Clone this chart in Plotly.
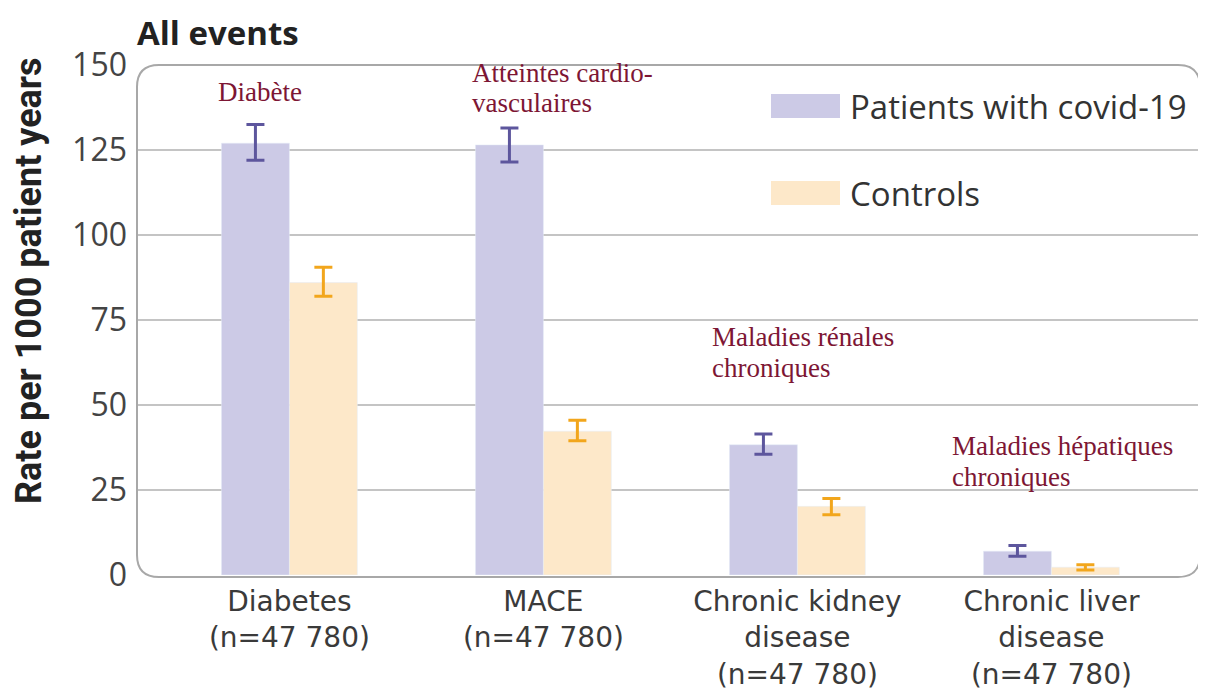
import plotly.graph_objects as go

category_lines = [["Diabetes", "(n=47 780)"], ["MACE", "(n=47 780)"],
                  ["Chronic kidney", "disease", "(n=47 780)"], ["Chronic liver", "disease", "(n=47 780)"]]
categories = ["<br>".join(c) for c in category_lines]
covid_rate = [127, 126.5, 38.3, 7.0]
covid_lo = [122, 121.5, 35.5, 5.5]
covid_hi = [132.5, 131.5, 41.5, 8.7]
ctrl_rate = [86, 42.3, 20.2, 2.3]
ctrl_lo = [82, 39.5, 17.7, 1.5]
ctrl_hi = [90.5, 45.5, 22.5, 3.0]
yticks = [0, 25, 50, 75, 100, 125, 150]
series_names = ["Patients with covid-19", "Controls"]
notes = [["Diabète"], ["Atteintes cardio-", "vasculaires"], ["Maladies rénales", "chroniques"],
         ["Maladies hépatiques", "chroniques"]]

COV_BAR = "#cccae6"
COV_ERR = "#5d569d"
CTL_BAR = "#fde8c9"
CTL_ERR = "#f2a61c"
NOTE = "#7d1634"

# page body has an 8px margin; figure sized to fit the window
OX, OY = 8, 8
W, H = 1198, 685
L, R, T, B = 129, 6, 57, 118
pw, ph = W - L - R, H - T - B

fig = go.Figure()
fig.add_trace(go.Bar(
    x=categories, y=covid_rate, name=series_names[0], marker_color=COV_BAR,
    error_y=dict(type="data", symmetric=False,
                 array=[h - v for h, v in zip(covid_hi, covid_rate)],
                 arrayminus=[v - l for l, v in zip(covid_lo, covid_rate)],
                 color=COV_ERR, thickness=3, width=9),
))
fig.add_trace(go.Bar(
    x=categories, y=ctrl_rate, name=series_names[1], marker_color=CTL_BAR,
    error_y=dict(type="data", symmetric=False,
                 array=[h - v for h, v in zip(ctrl_hi, ctrl_rate)],
                 arrayminus=[v - l for l, v in zip(ctrl_lo, ctrl_rate)],
                 color=CTL_ERR, thickness=3, width=9),
))

def px(x):
    return (x - OX - L) / pw

def py(y):
    return (H - B - (y - OY)) / ph

# rounded plot border (page pixel coordinates)
r = 22
x0, x1, y0, y1 = 137, 1200, 65, 577
path = (f"M {px(x0+r)},{py(y0)} L {px(x1-r)},{py(y0)} Q {px(x1)},{py(y0)} {px(x1)},{py(y0+r)} "
        f"L {px(x1)},{py(y1-r)} Q {px(x1)},{py(y1)} {px(x1-r)},{py(y1)} "
        f"L {px(x0+r)},{py(y1)} Q {px(x0)},{py(y1)} {px(x0)},{py(y1-r)} "
        f"L {px(x0)},{py(y0+r)} Q {px(x0)},{py(y0)} {px(x0+r)},{py(y0)} Z")
shapes = [dict(type="path", xref="paper", yref="paper", path=path,
               line=dict(color="#a8a8a8", width=2), layer="above")]

annotations = []
# manual legend
for i, (nm, col) in enumerate(zip(series_names, [COV_BAR, CTL_BAR])):
    yc = 106 + i * 87
    shapes.append(dict(type="rect", xref="paper", yref="paper",
                       x0=px(771), x1=px(840), y0=py(yc - 12), y1=py(yc + 12),
                       fillcolor=col, line=dict(width=0)))
    annotations.append(dict(text=nm, xref="paper", yref="paper", x=px(848), y=py(yc),
                            xanchor="left", yanchor="middle", showarrow=False,
                            font=dict(family="Open Sans", size=33, color="#333333")))

# French notes
note_pos = [(216, 92), (470, 73), (710, 337), (950, 446)]
for lines, (nx, ny) in zip(notes, note_pos):
    for j, t in enumerate(lines):
        annotations.append(dict(text=t, xref="paper", yref="paper", x=px(nx), y=py(ny + 30.5 * j),
                                xanchor="left", yanchor="middle", showarrow=False,
                                font=dict(family="Liberation Serif", size=27, color=NOTE)))

annotations.append(dict(text="<b>All events</b>", xref="paper", yref="paper",
                        x=px(135), y=py(32), xanchor="left", yanchor="middle",
                        showarrow=False, font=dict(family="Open Sans", size=33, color="#222222")))
annotations.append(dict(text="<b>Rate per 1000 patient years</b>", xref="paper", yref="paper",
                        x=px(29), y=py(281), xanchor="center", yanchor="middle", textangle=-90,
                        showarrow=False, font=dict(family="Roboto", size=36, color="#222222")))

fig.update_layout(
    width=W, height=H,
    margin=dict(l=L, r=R, t=T, b=B),
    paper_bgcolor="white", plot_bgcolor="white",
    barmode="group", bargap=0.465, bargroupgap=0,
    showlegend=False,
    shapes=shapes, annotations=annotations,
    xaxis=dict(range=[-0.6, 3.585], showgrid=False, showline=False, ticks="",
               ticklabelstandoff=7, automargin=False,
               tickfont=dict(family="DejaVu Sans", size=28, color="#3a3a3a")),
    yaxis=dict(range=[0, 150], tickvals=yticks, showgrid=True, gridcolor="#c4c4c4",
               gridwidth=2, zeroline=False, showline=False, ticks="",
               ticklabelstandoff=9, automargin=False,
               tickfont=dict(family="Open Sans", size=32, color="#444444")),
)

fig.write_html("out.html")
